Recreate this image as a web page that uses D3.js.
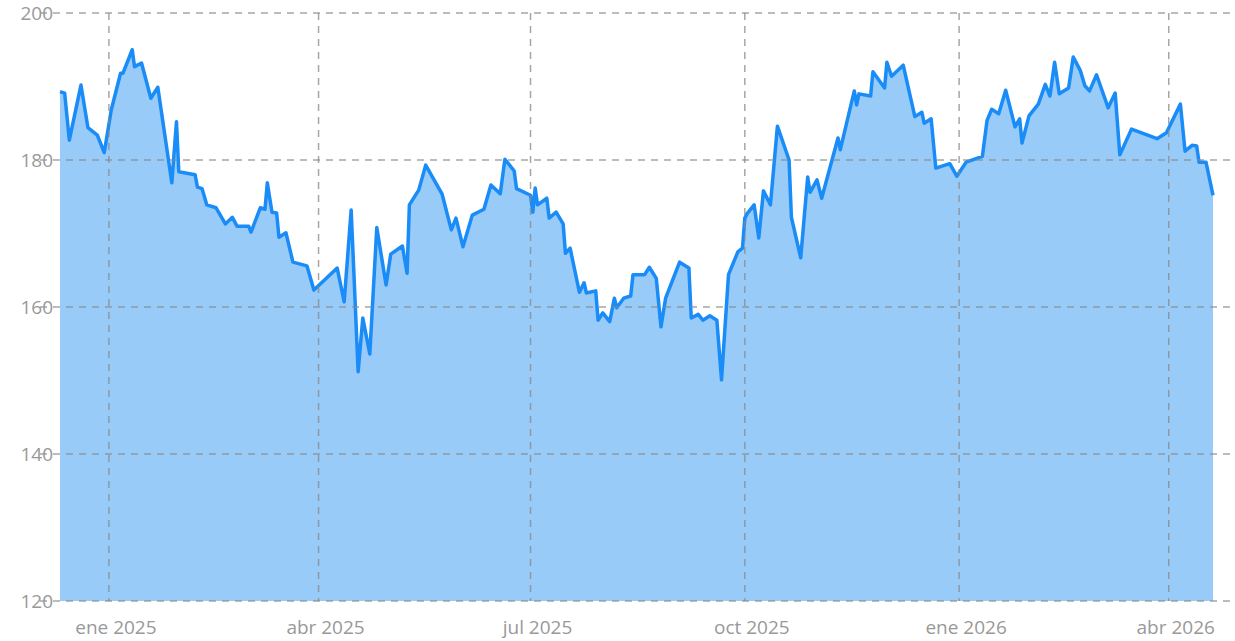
<!DOCTYPE html>
<html>
<head>
<meta charset="utf-8">
<script src="https://cdn.jsdelivr.net/npm/d3@7"></script>
<style>
  body { margin: 0; background: #fff; }
  svg { display: block; }
  text { font-family: "Open Sans", sans-serif; fill: #999; }
</style>
</head>
<body>
<svg width="1235" height="641"></svg>
<script>
// days since start date (2024-12-11)
const startDate = new Date(2024, 11, 11);
const dayOffsets = [0,2,4,9,12,16,19,22,26,27,31,32,35,39,42,48,50,51,58,59,61,63,67,71,74,76,81,82,86,88,89,91,93,94,97,100,106,109,119,122,125,128,130,133,136,140,142,147,149,150,154,157,164,168,170,173,177,182,185,189,191,195,196,202,203,204,205,209,210,213,216,217,219,223,225,226,230,231,233,236,238,239,242,245,246,251,253,256,258,260,266,270,271,274,276,279,282,284,287,291,293,294,295,298,300,302,305,308,313,314,318,321,322,325,327,334,335,341,342,343,348,349,354,355,357,362,367,370,371,374,376,382,385,389,396,398,400,403,406,410,412,413,416,420,423,425,427,429,433,435,438,440,442,445,450,453,455,460,471,475,481,483,486,488,489,492,495];
const prices = [189.3,189.1,182.7,190.2,184.4,183.4,181.0,186.8,191.8,191.8,195.0,192.7,193.2,188.4,189.9,176.9,185.2,178.4,178.0,176.3,176.1,173.9,173.5,171.3,172.2,171.0,171.0,170.2,173.5,173.3,176.9,172.9,172.8,169.5,170.1,166.1,165.6,162.3,165.3,160.7,173.2,151.2,158.5,153.6,170.8,163.0,167.2,168.3,164.6,173.9,175.9,179.3,175.4,170.5,172.1,168.2,172.5,173.3,176.6,175.4,180.1,178.5,176.1,175.2,172.9,176.2,173.9,174.8,172.1,172.9,171.3,167.3,168.0,162.0,163.3,161.9,162.2,158.2,159.2,158.0,161.2,159.9,161.2,161.5,164.4,164.4,165.4,163.9,157.3,161.2,166.1,165.3,158.5,159.0,158.2,158.8,158.2,150.1,164.4,167.5,168.0,172.1,172.7,173.9,169.4,175.8,173.9,184.6,180.0,172.2,166.7,177.7,175.6,177.3,174.8,183.0,181.4,189.4,187.5,189.0,188.7,192.0,189.8,193.3,191.4,192.9,185.9,186.5,185.0,185.6,178.9,179.5,177.8,179.7,180.5,185.4,186.9,186.3,189.5,184.5,185.6,182.3,186.0,187.6,190.3,188.7,193.3,189.0,189.8,194.0,192.2,190.1,189.4,191.6,187.1,189.1,180.7,184.2,182.9,183.7,187.6,181.2,182.0,181.9,179.7,179.7,175.2];
const yTicks = [120, 140, 160, 180, 200];
const monthNames = ["ene","feb","mar","abr","may","jun","jul","ago","sep","oct","nov","dic"];
const xTickDates = [new Date(2025,0,1), new Date(2025,3,1), new Date(2025,6,1), new Date(2025,9,1), new Date(2026,0,1), new Date(2026,3,1)];

const data = dayOffsets.map((d, i) => ({ date: d3.timeDay.offset(startDate, d), value: prices[i] }));

const svg = d3.select("svg");
const x = d3.scaleTime()
    .domain([startDate, d3.timeDay.offset(startDate, 495)])
    .range([60, 1213]);
const y = d3.scaleLinear().domain([120, 200]).range([601, 13]);

// area + line
svg.append("path")
    .datum(data)
    .attr("fill", "#99cbf8")
    .attr("d", d3.area().x(d => x(d.date)).y0(y(120)).y1(d => y(d.value)));
svg.append("path")
    .datum(data)
    .attr("fill", "none")
    .attr("stroke", "#1a8cf7")
    .attr("stroke-width", 3.5)
    .attr("stroke-linejoin", "round")
    .attr("d", d3.line().x(d => x(d.date)).y(d => y(d.value)));

// grid
const grid = svg.append("g").attr("stroke", "#888").attr("stroke-opacity", 0.75)
    .attr("stroke-width", 1.5).attr("stroke-dasharray", "7,6");
grid.selectAll(".h").data(yTicks).enter().append("line")
    .attr("x1", 40).attr("x2", 1235)
    .attr("y1", d => y(d)).attr("y2", d => y(d));
grid.selectAll(".v").data(xTickDates).enter().append("line")
    .attr("x1", d => x(d)).attr("x2", d => x(d))
    .attr("y1", 13).attr("y2", 601);

// labels
svg.selectAll(".yl").data(yTicks).enter().append("text")
    .attr("x", 53).attr("y", d => y(d) + 7)
    .attr("text-anchor", "end").attr("font-size", 19)
    .text(d => d);
svg.selectAll(".xl").data(xTickDates).enter().append("text")
    .attr("x", d => x(d) + 7).attr("y", 634)
    .attr("text-anchor", "middle").attr("font-size", 19)
    .text(d => monthNames[d.getMonth()] + " " + d.getFullYear());
</script>
</body>
</html>
